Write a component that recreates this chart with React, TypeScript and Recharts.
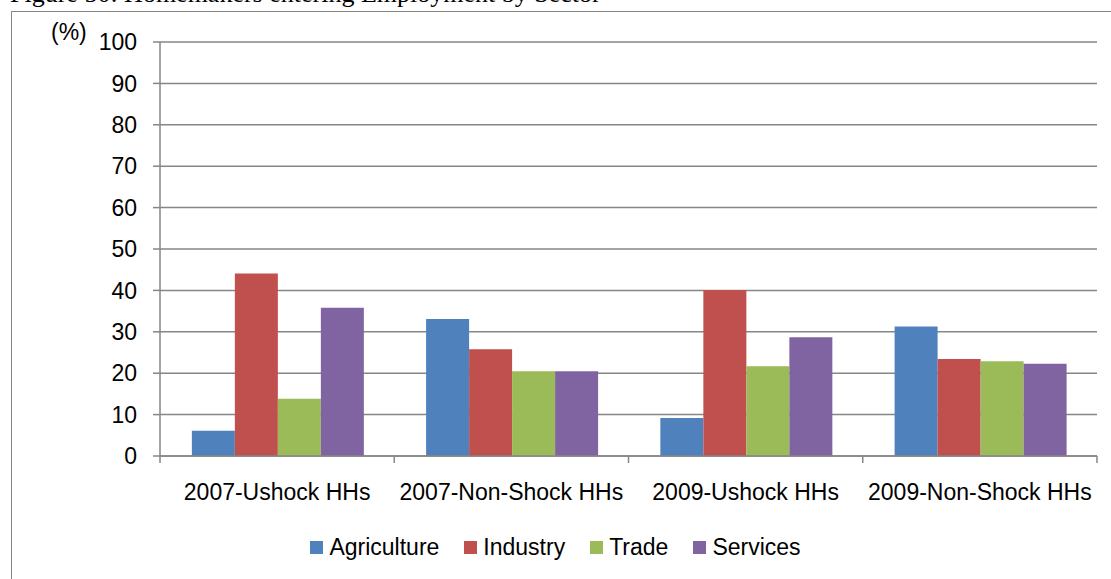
import { BarChart, Bar, XAxis, YAxis, CartesianGrid, Legend } from "recharts";

const categories = [
  "2007-Ushock HHs",
  "2007-Non-Shock HHs",
  "2009-Ushock HHs",
  "2009-Non-Shock HHs",
];
const agriculture = [6.1, 33.1, 9.2, 31.3];
const industry = [44.1, 25.8, 40.1, 23.4];
const trade = [13.8, 20.5, 21.7, 22.9];
const services = [35.8, 20.5, 28.7, 22.3];
const yTicks = [0, 10, 20, 30, 40, 50, 60, 70, 80, 90, 100];

const SERIES = [
  { key: "agriculture", name: "Agriculture", color: "#4F81BD" },
  { key: "industry", name: "Industry", color: "#C0504D" },
  { key: "trade", name: "Trade", color: "#9BBB59" },
  { key: "services", name: "Services", color: "#8064A2" },
];

const data = categories.map((c, i) => ({
  name: c,
  agriculture: agriculture[i],
  industry: industry[i],
  trade: trade[i],
  services: services[i],
}));

const AXIS = "#868686";
const FONT = "'Liberation Sans', Arial, sans-serif";

// category labels sit in the middle, tick marks go on the band edges
function CategoryTick(props: any) {
  const { x, y, payload, index } = props;
  const half = payload?.offset ?? 117;
  return (
    <g>
      <line x1={x - half} x2={x - half} y1={y} y2={y + 7} stroke={AXIS} strokeWidth={1.5} />
      {index === categories.length - 1 && (
        <line x1={x + half} x2={x + half} y1={y} y2={y + 7} stroke={AXIS} strokeWidth={1.5} />
      )}
      <text x={x} y={y + 44} textAnchor="middle" fontSize={23} fill="#000" fontFamily={FONT}>
        {payload.value}
      </text>
    </g>
  );
}

function LegendContent() {
  return (
    <div
      style={{
        display: "flex",
        justifyContent: "center",
        alignItems: "center",
        height: 30,
        fontFamily: FONT,
        fontSize: 23,
        color: "#000",
      }}
    >
      {SERIES.map((s, i) => (
        <div key={s.key} style={{ display: "flex", alignItems: "center", marginLeft: i ? 25 : 0 }}>
          <span style={{ width: 13, height: 13, background: s.color, display: "inline-block" }} />
          <span style={{ marginLeft: 6 }}>{s.name}</span>
        </div>
      ))}
    </div>
  );
}

export default function App() {
  return (
    <div
      style={{
        position: "absolute",
        left: 0,
        top: 0,
        width: 1111,
        height: 579,
        overflow: "hidden",
        background: "#fff",
      }}
    >
      <div
        style={{
          position: "absolute",
          left: 10,
          top: -19,
          fontFamily: "'Liberation Serif', 'Times New Roman', serif",
          fontSize: 26,
          lineHeight: "26px",
          whiteSpace: "nowrap",
          color: "#000",
        }}
      >
        Figure 50: Homemakers entering Employment by Sector
      </div>
      <div
        style={{
          position: "absolute",
          left: 11,
          top: 11,
          width: 1300,
          height: 800,
          border: `1.5px solid ${AXIS}`,
        }}
      />
      <div
        style={{
          position: "absolute",
          left: 51,
          top: 21,
          fontFamily: FONT,
          fontSize: 23,
          lineHeight: "23px",
          color: "#000",
        }}
      >
        (%)
      </div>
      <div style={{ position: "absolute", left: 0, top: 0 }}>
        <BarChart
          width={1111}
          height={579}
          data={data}
          margin={{ top: 42, right: 14, left: 0, bottom: 49 }}
          barCategoryGap="13.6%"
          barGap={0}
        >
          <CartesianGrid vertical={false} stroke={AXIS} strokeWidth={1.5} />
          <XAxis
            dataKey="name"
            height={44}
            axisLine={{ stroke: AXIS, strokeWidth: 1.5 }}
            tickLine={false}
            tickSize={0}
            tickMargin={0}
            interval={0}
            tick={<CategoryTick />}
          />
          <YAxis
            width={160}
            domain={[0, 100]}
            ticks={yTicks}
            interval={0}
            axisLine={{ stroke: AXIS, strokeWidth: 1.5 }}
            tickLine={{ stroke: AXIS, strokeWidth: 1.5 }}
            tickSize={7}
            tickMargin={16}
            tick={{ fill: "#000", fontSize: 23, fontFamily: FONT }}
          />
          <Legend
            verticalAlign="bottom"
            content={<LegendContent />}
            wrapperStyle={{ left: 0, width: 1111, top: 532, bottom: "auto" }}
          />
          {SERIES.map((s) => (
            <Bar
              key={s.key}
              dataKey={s.key}
              name={s.name}
              fill={s.color}
              isAnimationActive={false}
            />
          ))}
        </BarChart>
      </div>
    </div>
  );
}
